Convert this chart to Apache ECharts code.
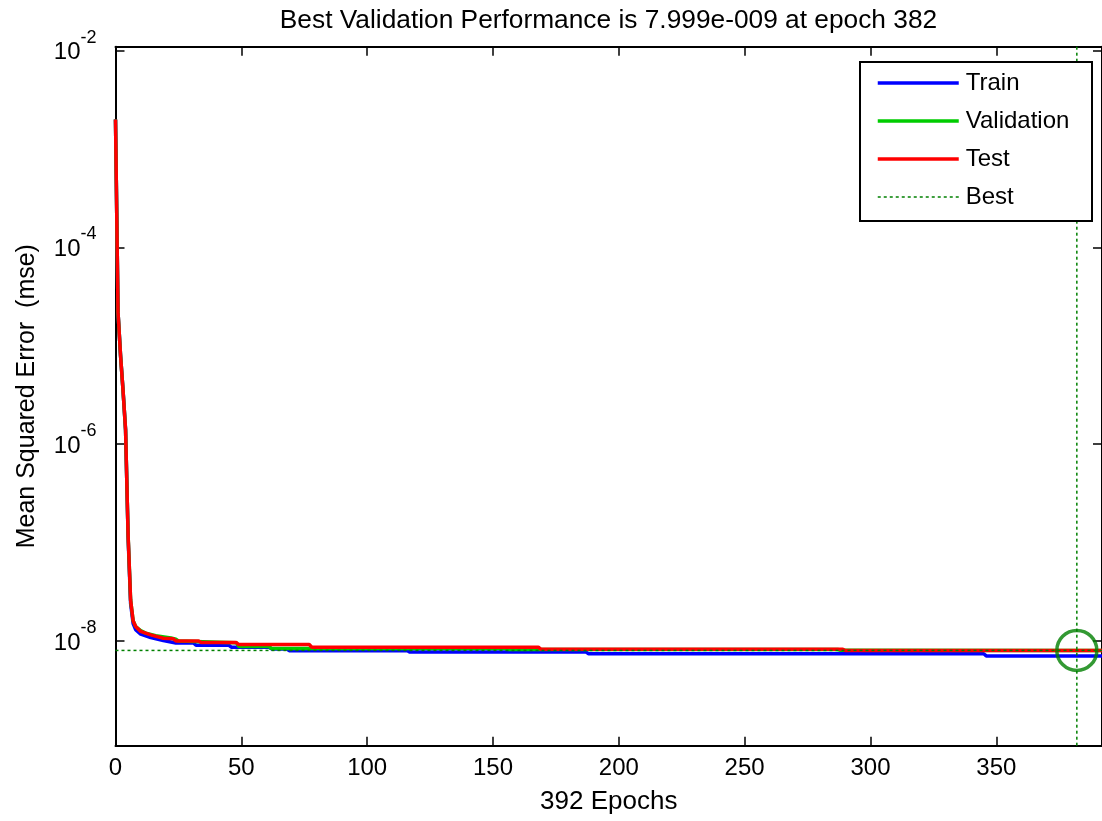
<!DOCTYPE html>
<html>
<head>
<meta charset="utf-8">
<script src="https://cdn.jsdelivr.net/npm/echarts@6/dist/echarts.min.js"></script>
<style>
html,body{margin:0;padding:0;background:#fff;}
#chart{width:1102px;height:821px;}
</style>
</head>
<body>
<div id="chart"></div>
<script>
// ---- data ----
const titleText = 'Best Validation Performance is 7.999e-009 at epoch 382';
const xName = '392 Epochs';
const yName = 'Mean Squared Error  (mse)';
const legendNames = ['Train', 'Validation', 'Test', 'Best'];
const xTicks = [0, 50, 100, 150, 200, 250, 300, 350];
const yTicks = [1e-8, 1e-6, 1e-4, 1e-2];
const xMax = 392;
const yMin = 8.6e-10;
const yMax = 1.099e-2;
const bestEpoch = 382;
const bestPerf = 7.999e-9;

const trainEpochs = [0,1,2,3,4,5,6,7,8,10,14,19,24,31,32,45,46,61,62,68,69,116,117,187,188,345,346,392];
const trainValues = [2.0e-3,2.2e-5,8e-6,3.5e-6,1.4e-6,1.15e-7,2.4e-8,1.5e-8,1.3e-8,1.17e-8,1.08e-8,1.01e-8,9.54e-9,9.54e-9,9.04e-9,9.04e-9,8.63e-9,8.63e-9,8.29e-9,8.29e-9,7.95e-9,7.95e-9,7.69e-9,7.69e-9,7.41e-9,7.41e-9,7.04e-9,7.04e-9];

const valEpochs = [0,1,2,3,4,5,6,7,8,10,12,16,22,24,25,48,49,61,62,155,156,287,288,382,392];
const valValues = [2.0e-3,2.2e-5,8e-6,3.5e-6,1.4e-6,1.2e-7,2.6e-8,1.6e-8,1.4e-8,1.27e-8,1.2e-8,1.13e-8,1.07e-8,1.04e-8,1.0e-8,9.6e-9,8.75e-9,8.75e-9,8.37e-9,8.37e-9,8.18e-9,8.18e-9,8.02e-9,7.999e-9,8.01e-9];

const testEpochs = [0,1,2,3,4,5,6,7,8,10,14,19,23,24,33,34,48,49,77,78,168,169,289,290,392];
const testValues = [2.0e-3,2.2e-5,8e-6,3.5e-6,1.4e-6,1.2e-7,2.6e-8,1.6e-8,1.4e-8,1.25e-8,1.15e-8,1.065e-8,1.05e-8,1.0e-8,1.0e-8,9.63e-9,9.63e-9,9.19e-9,9.19e-9,8.63e-9,8.63e-9,8.23e-9,8.23e-9,7.98e-9,7.98e-9];

// ---- build ----
const zip = (xs, ys) => xs.map((x, i) => [x, ys[i]]);
const FONT = '"Liberation Sans", Arial, sans-serif';
const BEST_COLOR = '#008000';

const chart = echarts.init(document.getElementById('chart'), null, {renderer: 'canvas'});

const grid = {left: 115.5, top: 46.7, width: 988, height: 699};

const yLabelFmt = v => '{b|10}{s|' + Math.round(Math.log10(v)) + '}';

const option = {
  backgroundColor: '#fff',
  animation: false,
  title: {
    text: titleText,
    left: 603.5, top: 3, textAlign: 'center',
    textStyle: {fontFamily: FONT, fontSize: 26.3, fontWeight: 'normal', color: '#000'}
  },
  grid: grid,
  legend: {
    data: legendNames.map(n => n === 'Best'
      ? {name: n, lineStyle: {width: 1.5}}
      : {name: n, lineStyle: {width: 3.5}}),
    orient: 'vertical',
    left: 876, top: 71,
    padding: 0,
    itemWidth: 81, itemHeight: 14, itemGap: 14,
    itemStyle: {opacity: 0},
    textStyle: {fontFamily: FONT, fontSize: 24, lineHeight: 24, color: '#000', padding: [0, 0, 0, 2]},
    selectedMode: false,
    z: 10
  },
  graphic: [{
    type: 'rect', z: 5,
    shape: {x: 860, y: 62, width: 232, height: 159},
    style: {fill: '#fff', stroke: '#000', lineWidth: 2}
  }],
  xAxis: [{
    type: 'value', min: 0, max: xMax, position: 'bottom',
    name: xName, nameLocation: 'middle', nameGap: 43,
    nameTextStyle: {fontFamily: FONT, fontSize: 26, color: '#000'},
    axisLine: {show: true, onZero: false, lineStyle: {color: '#000', width: 2}},
    axisTick: {show: true, inside: true, length: 9, customValues: xTicks, lineStyle: {color: '#000', width: 1.5}},
    axisLabel: {show: true, customValues: xTicks, margin: 11, fontFamily: FONT, fontSize: 24, color: '#000'},
    splitLine: {show: false}
  }, {
    type: 'value', min: 0, max: xMax, position: 'top',
    axisLine: {show: true, onZero: false, lineStyle: {color: '#000', width: 2}},
    axisTick: {show: true, inside: true, length: 9, customValues: xTicks, lineStyle: {color: '#000', width: 1.5}},
    axisLabel: {show: false},
    splitLine: {show: false}
  }],
  yAxis: [{
    type: 'log', logBase: 10, min: yMin, max: yMax, position: 'left',
    name: yName, nameLocation: 'middle', nameGap: 76, nameRotate: 90,
    nameTextStyle: {fontFamily: FONT, fontSize: 25, color: '#000'},
    axisLine: {show: true, onZero: false, lineStyle: {color: '#000', width: 2}},
    axisTick: {show: true, inside: true, length: 9, customValues: yTicks, lineStyle: {color: '#000', width: 1.5}},
    axisLabel: {
      show: true, customValues: yTicks, margin: 19, formatter: yLabelFmt,
      rich: {
        b: {fontFamily: FONT, fontSize: 24, color: '#000', padding: [4, 0, 0, 0]},
        s: {fontFamily: FONT, fontSize: 18, color: '#000', padding: [0, 0, 26, 0]}
      }
    },
    splitLine: {show: false}
  }, {
    type: 'log', logBase: 10, min: yMin, max: yMax, position: 'right',
    axisLine: {show: true, onZero: false, lineStyle: {color: '#000', width: 2}},
    axisTick: {show: true, inside: true, length: 9, customValues: yTicks, lineStyle: {color: '#000', width: 1.5}},
    axisLabel: {show: false},
    splitLine: {show: false}
  }],
  series: [
    {name: 'Train', type: 'line', data: zip(trainEpochs, trainValues), symbol: 'none',
     lineStyle: {color: '#0000FF', width: 3.5}, itemStyle: {color: '#0000FF'}, z: 2},
    {name: 'Validation', type: 'line', data: zip(valEpochs, valValues), symbol: 'none',
     lineStyle: {color: '#00CC00', width: 3.5}, itemStyle: {color: '#00CC00'}, z: 2},
    {name: 'Test', type: 'line', data: zip(testEpochs, testValues), symbol: 'none',
     lineStyle: {color: '#FF0000', width: 3.5}, itemStyle: {color: '#FF0000'}, z: 2},
    {name: 'Best', type: 'line', data: [[0, bestPerf], [xMax, bestPerf]], symbol: 'none',
     lineStyle: {color: BEST_COLOR, width: 1.5, type: [3, 3]}, itemStyle: {color: BEST_COLOR}, z: 3},
    {name: 'Best', type: 'line', data: [[bestEpoch, yMin], [bestEpoch, yMax]], symbol: 'none',
     lineStyle: {color: BEST_COLOR, width: 1.5, type: [3, 3]}, itemStyle: {color: BEST_COLOR}, z: 3},
    {name: 'BestPoint', type: 'scatter', data: [[bestEpoch, bestPerf]], symbol: 'circle', symbolSize: 40,
     itemStyle: {color: 'rgba(0,0,0,0)', borderColor: BEST_COLOR, borderWidth: 3.5}, z: 4, clip: false}
  ]
};
chart.setOption(option);
</script>
</body>
</html>
